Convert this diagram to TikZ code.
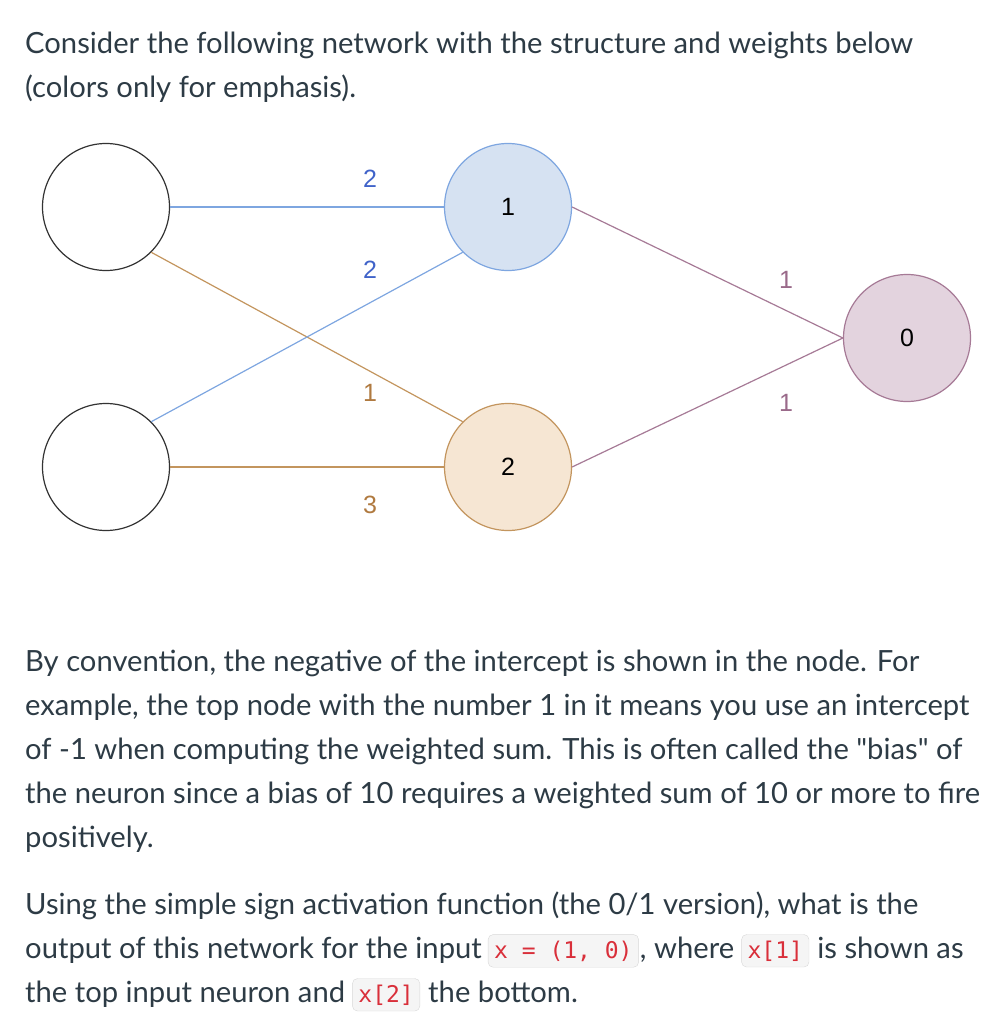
\documentclass[tikz,border=0pt]{standalone}
\usepackage{fontspec}
\setmainfont{Lato}
\newfontfamily\codefont{DejaVu Sans Mono}
\newfontfamily\diafont{Liberation Sans}
\definecolor{txtcol}{HTML}{2D3B45}
\definecolor{bluefill}{HTML}{D6E2F2}
\definecolor{bluedraw}{HTML}{7EA6E0}
\definecolor{bluelab}{HTML}{4063C9}
\definecolor{orfill}{HTML}{F6E6D3}
\definecolor{ordraw}{HTML}{C3955E}
\definecolor{orlab}{HTML}{B07A40}
\definecolor{pufill}{HTML}{E3D3DE}
\definecolor{pudraw}{HTML}{A67A96}
\definecolor{pulab}{HTML}{9A6A8A}
\definecolor{codered}{HTML}{D92F3A}
\definecolor{codebg}{HTML}{F5F5F5}
\definecolor{codeborder}{HTML}{D8D8D8}
\tikzset{
  txt/.style={anchor=base west, inner sep=0pt, text=txtcol, font=\fontsize{29.2}{44}\selectfont},
  codebox/.style={anchor=base west, draw=codeborder, fill=codebg, rounded corners=5pt,
     inner xsep=6pt, inner ysep=6pt, text=codered, font=\codefont\fontsize{23}{26}\selectfont},
  neuron/.style={circle, minimum size=127pt, inner sep=0pt, line width=1.2pt, font=\diafont\fontsize{25}{28}\selectfont},
  inputn/.style={neuron, draw=black!80, fill=white},
  hid1/.style={neuron, draw=bluedraw, fill=bluefill},
  hid2/.style={neuron, draw=ordraw, fill=orfill},
  outn/.style={neuron, draw=pudraw, fill=pufill},
  wlab/.style={font=\diafont\fontsize{25}{28}\selectfont, inner sep=0pt},
  conn/.style={line width=1.2pt}
}
\begin{document}
\begin{tikzpicture}[x=1pt,y=-1pt]
\path[use as bounding box] (0,0) rectangle (1002,1024);
% text top
\node[txt] (t1) at (25,54) {Consider the following network with the structure and weights below};
\node[txt] (t2) at (25,98) {(colors only for emphasis).};
% network
\node[inputn] (i1) at (106,207) {};
\node[inputn] (i2) at (106,467) {};
\node[hid1] (h1) at (508,207) {1};
\node[hid2] (h2) at (508,467) {2};
\node[outn] (o) at (907,338) {0};
\draw[conn, bluedraw] (i1.east) -- (h1.west);
\draw[conn, ordraw] (i1.south east) -- (h2.north west);
\draw[conn, bluedraw] (i2.north east) -- (h1.south west);
\draw[conn, ordraw] (i2.east) -- (h2.west);
\draw[conn, pudraw] (h1.east) -- (o.west);
\draw[conn, pudraw] (h2.east) -- (o.west);
\node[wlab, text=bluelab] (w11) at (370,179) {2};
\node[wlab, text=bluelab] (w21) at (370,270) {2};
\node[wlab, text=orlab] (w12) at (370,393) {1};
\node[wlab, text=orlab] (w22) at (370,505) {3};
\node[wlab, text=pulab] (v1) at (786,280) {1};
\node[wlab, text=pulab] (v2) at (786,403) {1};
% paragraph 2
\node[txt] (p1) at (25,671) {By convention, the negative of the intercept is shown in the node. For};
\node[txt] (p2) at (25,715) {example, the top node with the number 1 in it means you use an intercept};
\node[txt] (p3) at (25,759) {of -1 when computing the weighted sum. This is often called the \textquotedbl bias\textquotedbl\ of};
\node[txt] (p4) at (25,803) {the neuron since a bias of 10 requires a weighted sum of 10 or more to fire};
\node[txt] (p5) at (25,847) {positively.};
% paragraph 3
\node[txt] (q1) at (25,914) {Using the simple sign activation function (the 0/1 version), what is the};
\node[txt] (q2a) at (25,958) {output of this network for the input};
\node[codebox] (c1) at ([xshift=6pt]q2a.base east) {x = (1, 0)};
\node[txt] (q2b) at ([xshift=1pt]c1.base east) {, where};
\node[codebox] (c2) at ([xshift=7pt]q2b.base east) {x[1]};
\node[txt] (q2c) at ([xshift=8pt]c2.base east) {is shown as};
\node[txt] (q3a) at (25,1002) {the top input neuron and};
\node[codebox] (c3) at ([xshift=7pt]q3a.base east) {x[2]};
\node[txt] (q3b) at ([xshift=8pt]c3.base east) {the bottom.};
\end{tikzpicture}
\end{document}
